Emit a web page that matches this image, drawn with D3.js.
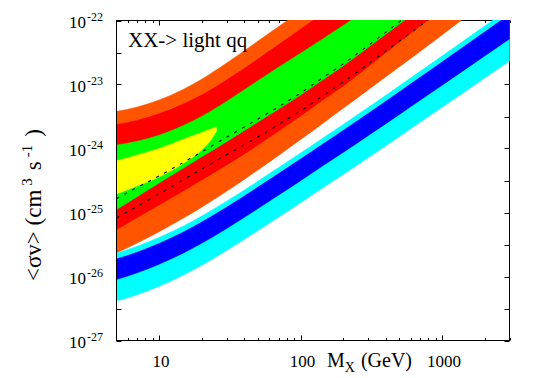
<!DOCTYPE html>
<html><head><meta charset="utf-8">
<script src="https://cdn.jsdelivr.net/npm/d3@7"></script>
<style>html,body{margin:0;padding:0;background:#fff;} svg{display:block;}</style>
</head><body>
<script>
// ---- data (mass in GeV, <sigma v> in cm^3 s^-1) ----
const massGrid = [5,7,10,15,20,30,50,70,100,150,200,300,500,700,1000,2000,3000];

const orangeUpper = [3.79e-24,4.45e-24,5.73e-24,8.5e-24,1.206e-23,2.16e-23,4.765e-23,8.03e-23,1.392e-22,2.6e-22,4.07e-22];
const redUpper    = [2.37e-24,2.749e-24,3.485e-24,4.994e-24,6.85e-24,1.176e-23,2.5e-23,4.2e-23,7.31e-23,1.368e-22,2.136e-22,4.14e-22];
const greenUpper  = [1.13e-24,1.296e-24,1.614e-24,2.312e-24,3.174e-24,5.44e-24,1.147e-23,1.864e-23,3.083e-23,5.48e-23,8.35e-23,1.512e-22,3.22e-22];
const greenLower  = [1.11e-25,1.77e-25,2.89e-25,5.0e-25,7.4e-25,1.28e-24,2.6e-24,4.14e-24,6.85e-24,1.263e-23,1.95e-23,3.79e-23,8.8e-23,1.54e-22,2.79e-22];
const redLower    = [5.4e-26,8.35e-26,1.31e-25,2.2e-25,3.22e-25,5.52e-25,1.13e-24,1.88e-24,3.22e-24,6.1e-24,9.48e-24,1.9e-23,4.6e-23,8.2e-23,1.51e-22,4.96e-22];
const orangeLower = [2.33e-26,3.326e-26,5.01e-26,8.26e-26,1.21e-25,2.144e-25,4.63e-25,7.8e-25,1.378e-24,2.651e-24,4.248e-24,8.23e-24,1.897e-23,3.29e-23,5.93e-23,1.931e-22,3.88e-22];

const yellowMass  = [5,7,10,15,20,23.5,25.5];
const yellowUpper = [6.38e-25,7.91e-25,1.0e-24,1.41e-24,1.78e-24,2.04e-24,2.17e-24];
const yellowLower = [1.95e-25,2.6e-25,3.59e-25,5.93e-25,9.48e-25,1.41e-24,1.88e-24];

const dashUpper = [1.65e-25,2.46e-25,3.72e-25,6.15e-25,8.82e-25,1.5e-24,2.89e-24,4.5e-24,7.36e-24,1.36e-23,2.09e-23,4.05e-23,9.5e-23,1.65e-22,3.0e-22];
const dashLower = [8.2e-26,1.25e-25,1.95e-25,3.29e-25,4.78e-25,7.97e-25,1.51e-24,2.38e-24,3.86e-24,7.1e-24,1.09e-23,2.09e-23,4.78e-23,8.2e-23,1.48e-22,4.61e-22];

const cyanUpper = [2.305e-26,2.975e-26,4.08e-26,6.22e-26,8.79e-26,1.5e-25,3.095e-25,5.05e-25,8.5e-25,1.551e-24,2.38e-24,4.37e-24,9.54e-24,1.608e-23,2.789e-23,8.2e-23,1.545e-22];
const blueUpper = [1.877e-26,2.397e-26,3.29e-26,5.01e-26,7.08e-26,1.21e-25,2.494e-25,4.07e-25,6.85e-25,1.25e-24,1.918e-24,3.524e-24,7.69e-24,1.296e-23,2.247e-23,6.61e-23,1.245e-22];
const blueLower = [8.98e-27,1.142e-26,1.557e-26,2.354e-26,3.302e-26,5.6e-26,1.151e-25,1.871e-25,3.138e-25,5.71e-25,8.69e-25,1.586e-24,3.41e-24,5.67e-24,9.72e-24,2.787e-23,5.16e-23];
const cyanLower = [4.14e-27,5.18e-27,7.06e-27,1.067e-26,1.496e-26,2.538e-26,5.22e-26,8.48e-26,1.422e-25,2.588e-25,3.94e-25,7.19e-25,1.545e-24,2.57e-24,4.41e-24,1.263e-23,2.339e-23];

const xMajorTicks = [10,100,1000];
const xMinorTicks = [6,7,8,9,20,30,40,50,60,70,80,90,200,300,400,500,600,700,800,900,2000,3000];
const yDecadeExps = [-22,-23,-24,-25,-26,-27];
const yHalfTicks = [3.162e-23,3.162e-24,3.162e-25,3.162e-26,3.162e-27];
const legendText = "XX-> light qq";

// ---- drawing ----
const W=540,H=378;
const serif="'Liberation Serif','Times New Roman',serif";
const svg=d3.select("body").append("svg").attr("width",W).attr("height",H);
const x=d3.scaleLog().domain([5,3000]).range([116.5,509.5]);
const y=d3.scaleLog().domain([1e-27,1e-22]).range([340.5,20.5]);
const L=116.5,R=509.5,T=20.5,B=340.5;

// frame
svg.append("rect").attr("x",L).attr("y",T).attr("width",R-L).attr("height",B-T)
  .attr("fill","none").attr("stroke","#000").attr("stroke-width",1);

const tk=svg.append("g").attr("stroke","#000").attr("stroke-width",1);
function xt(v,len){
  const px=Math.round(x(v))+0.5;
  tk.append("line").attr("x1",px).attr("x2",px).attr("y1",B).attr("y2",B-len);
  tk.append("line").attr("x1",px).attr("x2",px).attr("y1",T).attr("y2",T+len);
}
xMajorTicks.forEach(v=>xt(v,5));
xMinorTicks.forEach(v=>xt(v,2.5));
function yt(v,len){
  const py=Math.round(y(v))+0.5;
  tk.append("line").attr("x1",L).attr("x2",L+len).attr("y1",py).attr("y2",py);
  tk.append("line").attr("x1",R).attr("x2",R-len).attr("y1",py).attr("y2",py);
}
yDecadeExps.forEach(e=>yt(Math.pow(10,e),5));
yHalfTicks.forEach(v=>yt(v,5));

// clip for bands
svg.append("defs").append("clipPath").attr("id","plotclip").append("rect")
  .attr("x",117).attr("y",20).attr("width",393).attr("height",321);
const g=svg.append("g").attr("clip-path","url(#plotclip)");

const line=d3.line().x(d=>x(d[0])).y(d=>y(d[1])).curve(d3.curveMonotoneX);
function band(masses, upper, lower, color){
  const up=upper.map((v,i)=>[masses[i],v]);
  const lo=lower.map((v,i)=>[masses[i],v]).reverse();
  const p=line(up)+"L"+line(lo).slice(1)+"Z";
  g.append("path").attr("d",p).attr("fill",color).attr("stroke",color).attr("stroke-width",0.5);
}
band(massGrid, orangeUpper, orangeLower, "#ff5500");
band(massGrid, redUpper, redLower, "#ff0000");
band(massGrid, greenUpper, greenLower, "#00ff00");
band(yellowMass, yellowUpper, yellowLower, "#ffff00");
band(massGrid, cyanUpper, cyanLower, "#00ffff");
band(massGrid, blueUpper, blueLower, "#0000ff");

[dashUpper, dashLower].forEach(arr=>{
  g.append("path").attr("d", line(arr.map((v,i)=>[massGrid[i],v])))
    .attr("fill","none").attr("stroke","#000").attr("stroke-width",1.1)
    .attr("stroke-dasharray","3,6");
});

// x tick labels
xMajorTicks.forEach(v=>{
  svg.append("text").attr("x",x(v)+2).attr("y",366.5).attr("text-anchor","middle")
    .attr("font-family",serif).attr("font-size",17).text(String(v));
});
// x title
const xt2=svg.append("text").attr("x",327).attr("y",366.5).attr("font-family",serif).attr("font-size",20);
xt2.append("tspan").text("M");
xt2.append("tspan").attr("font-size",14).attr("dy",5).text("X");
xt2.append("tspan").attr("dy",-5).attr("dx",6).text("(GeV)");

// y tick labels
yDecadeExps.forEach(e=>{
  const py=y(Math.pow(10,e));
  svg.append("text").attr("x",86).attr("y",py+7.5).attr("text-anchor","end")
    .attr("font-family",serif).attr("font-size",17).text("10");
  svg.append("text").attr("x",87).attr("y",py+0.5)
    .attr("font-family",serif).attr("font-size",12).text(String(e));
});

// y title
const yt2=svg.append("text").attr("transform","translate(41,281) rotate(-90)")
  .attr("text-anchor","start").attr("font-family",serif).attr("font-size",23);
yt2.append("tspan").text("<σv> (cm");
yt2.append("tspan").attr("font-size",15).attr("dy",-9).attr("dx",4).text("3");
yt2.append("tspan").attr("dy",9).attr("dx",8).text("s");
yt2.append("tspan").attr("font-size",15).attr("dy",-9).attr("dx",4).text("-1");
yt2.append("tspan").attr("dy",9).attr("dx",8).text(")");

// legend text
svg.append("text").attr("x",128).attr("y",47).attr("font-family",serif).attr("font-size",21).text(legendText);
</script>
</body></html>
